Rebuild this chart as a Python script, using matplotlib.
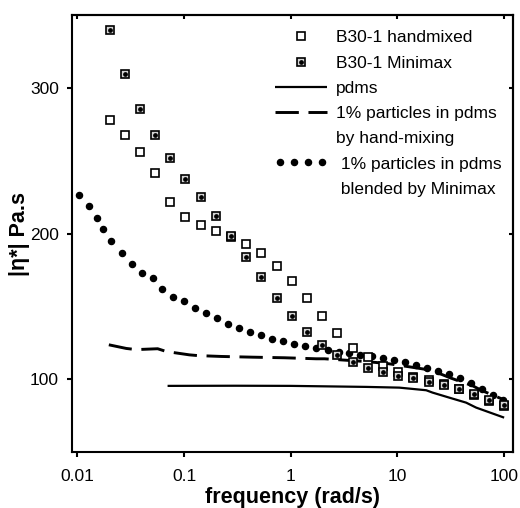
import matplotlib.pyplot as plt
from matplotlib.lines import Line2D
from matplotlib.legend_handler import HandlerLine2D

plt.rcParams['font.family'] = ['Liberation Sans', 'DejaVu Sans']

# B30-1 samples (square symbols), rad/s
sq_freq = [0.02, 0.0278, 0.0385, 0.0535, 0.0742, 0.103, 0.143, 0.199, 0.276,
           0.382, 0.531, 0.737, 1.02, 1.42, 1.97, 2.74, 3.80, 5.27, 7.31,
           10.2, 14.1, 19.6, 27.2, 37.7, 52.3, 72.6, 100.0]
handmixed = [278.2, 267.9, 256.2, 241.3, 221.3, 211.0, 206.0, 201.4, 197.5,
             192.9, 186.5, 177.8, 167.2, 155.5, 143.2, 131.7, 121.7, 114.9,
             109.2, 105.2, 101.8, 99.2, 96.8, 93.5, 89.0, 85.0, 81.8]
minimax = [339.7, 309.6, 285.3, 267.4, 251.8, 237.6, 225.0, 211.7, 198.1,
           184.2, 170.0, 156.0, 143.1, 132.1, 123.6, 116.7, 111.9, 107.6,
           105.0, 102.5, 100.7, 98.4, 96.1, 93.1, 89.7, 85.8, 82.5]

# pdms (solid line)
pdms_freq = [0.07, 0.3, 1.0, 5.1, 10.4, 18.6, 21.3, 30.7, 44.0, 54.6, 100.0]
pdms_eta = [95.4, 95.5, 95.4, 94.7, 94.2, 92.4, 90.8, 87.3, 83.9, 80.5, 73.6]

# 1% particles, hand-mixing (dashed line)
hand_freq = [0.0197, 0.0287, 0.0356, 0.0565, 0.068, 0.112, 0.134, 0.223, 0.44,
             0.873, 1.73, 2.07, 5.09, 8.1, 12.9, 17.8, 25.7, 31.8, 50.9, 60.9, 97.0]
hand_eta = [123.6, 121.1, 120.3, 120.9, 119.0, 116.7, 116.2, 115.6, 115.1,
            114.7, 114.0, 114.0, 112.1, 110.7, 108.5, 106.9, 103.4, 100.7,
            95.4, 92.4, 86.2]

# 1% particles, Minimax (dotted)
mm_freq = [0.0103, 0.0128, 0.0151, 0.0173, 0.0205, 0.0259, 0.0322, 0.0401,
           0.0509, 0.0627, 0.0791, 0.0996, 0.126, 0.161, 0.204, 0.259, 0.328,
           0.416, 0.528, 0.669, 0.854, 1.08, 1.37, 1.73, 2.21, 2.82, 3.55,
           4.5, 5.74, 7.29, 9.23, 11.7, 14.9, 19.1, 24.2, 30.7, 38.9, 49.0,
           62.0, 78.4, 98.5]
mm_eta = [226.6, 218.6, 210.5, 202.8, 195.0, 186.9, 179.4, 173.2, 169.7,
          161.9, 156.4, 153.4, 149.1, 145.2, 141.7, 138.1, 135.1, 132.3,
          130.0, 127.7, 125.9, 124.3, 122.7, 121.5, 120.2, 119.0, 117.9,
          116.7, 115.6, 114.2, 113.0, 111.5, 109.8, 108.0, 105.7, 103.4,
          100.7, 97.2, 93.1, 89.2, 85.8]

xticks = [0.01, 0.1, 1, 10, 100]
xticklabels = ['0.01', '0.1', '1', '10', '100']
yticks = [100, 200, 300]


def main():
    fig = plt.figure(figsize=(5.2, 5.08), dpi=100)
    ax = fig.add_axes([0.1385, 0.1102, 0.848, 0.8603])

    l_pdms, = ax.plot(pdms_freq, pdms_eta, color='black', lw=1.6,
                      solid_capstyle='butt', zorder=2)
    l_hand, = ax.plot(hand_freq, hand_eta, color='black', lw=2.1,
                      linestyle=(0, (8, 3.3)), dash_capstyle='butt', zorder=2)
    l_mm, = ax.plot(mm_freq, mm_eta, linestyle='none', marker='o', ms=4.4,
                    color='black', zorder=3)
    l_open, = ax.plot(sq_freq, handmixed, linestyle='none', marker='s', ms=5.6,
                      mfc='white', mec='black', mew=1.2, zorder=4)
    l_sq, = ax.plot(sq_freq, minimax, linestyle='none', marker='s', ms=5.6,
                    mfc='#d4d4d4', mec='black', mew=1.2, zorder=5)
    l_dot, = ax.plot(sq_freq, minimax, linestyle='none', marker='o', ms=2.4,
                     color='black', zorder=6)

    ax.set_xscale('log')
    ax.set_xlim(0.0089, 121)
    ax.set_ylim(50, 350)
    ax.set_xticks(xticks)
    ax.set_xticklabels(xticklabels)
    ax.minorticks_off()
    ax.set_yticks(yticks)

    for s in ax.spines.values():
        s.set_linewidth(1.5)
    ax.tick_params(axis='both', which='major', direction='out', length=3.5,
                   width=1.5, labelsize=12.5, pad=6)
    ax.tick_params(axis='x', pad=9)

    # small inward ticks on the top and right frame
    top = ax.secondary_xaxis('top')
    top.set_xticks(xticks)
    top.set_xticks([], minor=True)
    top.tick_params(direction='in', length=3, width=1.5, labeltop=False)
    top.spines['top'].set_linewidth(1.5)
    right = ax.secondary_yaxis('right')
    right.set_yticks(yticks)
    right.tick_params(direction='in', length=3, width=1.5, labelright=False)
    right.spines['right'].set_linewidth(1.5)

    ax.set_xlabel('frequency (rad/s)', fontsize=15.5, fontweight='bold',
                  labelpad=2)
    ax.set_ylabel('|η*| Pa.s', fontsize=15.5, fontweight='bold', labelpad=0)

    blank = Line2D([], [], color='none')
    handles = [l_open, (l_sq, l_dot), l_pdms, l_hand, blank, l_mm, blank]
    labels = ['B30-1 handmixed', 'B30-1 Minimax', 'pdms',
              '1% particles in pdms', 'by hand-mixing',
              ' 1% particles in pdms', ' blended by Minimax']
    ax.legend(handles, labels, loc='upper right',
              bbox_to_anchor=(0.975, 0.965), frameon=False, fontsize=12.5,
              handlelength=3.0, handletextpad=0.55, labelspacing=0.58,
              borderpad=0, borderaxespad=0, numpoints=1,
              handler_map={l_mm: HandlerLine2D(numpoints=4)})

    fig.savefig('out.png', dpi=100)


if __name__ == '__main__':
    main()
